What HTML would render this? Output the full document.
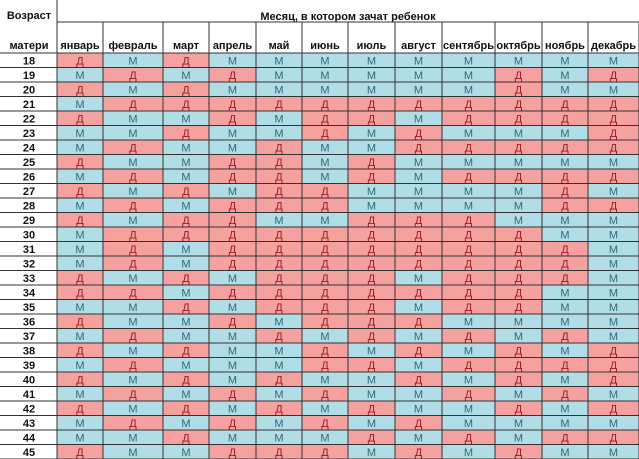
<!DOCTYPE html>
<html><head><meta charset="utf-8"><style>
html,body{margin:0;padding:0;background:#fff;}
svg{display:block;font-family:"Liberation Sans",Arial,sans-serif;}
</style></head><body>
<svg id="chart" width="639" height="459" viewBox="0 0 639 459" xmlns="http://www.w3.org/2000/svg">
<rect x="0" y="0" width="639" height="459" fill="#fff"/>
<text x="29" y="19" font-size="11" font-weight="bold" text-anchor="middle" fill="#111">Возраст</text>
<text x="348" y="20" font-size="11" font-weight="bold" text-anchor="middle" fill="#111">Месяц, в котором зачат ребенок</text>
<text x="29" y="49" font-size="11" font-weight="bold" text-anchor="middle" fill="#111">матери</text>
<g id="cells"></g><g id="lines"></g>
</svg>
<script>
const months=["январь","февраль","март","апрель","май","июнь","июль","август","сентябрь","октябрь","ноябрь","декабрь"];
const ages=[18,19,20,21,22,23,24,25,26,27,28,29,30,31,32,33,34,35,36,37,38,39,40,41,42,43,44,45];
const values=[
"ДМДММММММММ".padEnd(12,"М"),
"МДМДММММММДМД".slice(0,12),
"ДМДММММММДММ",
"МДДДДДДДДДДД",
"ДММДМДДМДДДД",
"ММДММДМДМММД",
"МДММДММДДДДД",
"ДММДДМДМММММ",
"МДМДДМДМДДДД",
"ДМДМДДМММДМ".padEnd(12,"М"),
"МДМДДДМММДДД".slice(0,12),
"ДМДДММДДДМММ",
"МДДДДДДДДДММ",
"МДМДДДДДДДДМ",
"МДМДДДДДДДДМ",
"ДМДМДДДМДДДМ",
"ДДМДДДДДДДММ",
"ММДМДДДМДДММ",
"ДММДМДДДММММ",
"МДММДМДМДМДМ",
"ДМДММДМДМДМД",
"МДМММДДМДДДД",
"ДМДМДМММДМДМД".slice(0,12),
"МДМДМДДМММДМ".slice(0,12),
"ДМДМДМДММДМД",
"МДМДМДМДМММММ".slice(0,12),
"ММДММММДМДМДД".slice(0,12),
"ДММДДДДМДМДММ".slice(0,12)
];
</script>
<script>
// corrected explicit rows (rows 18..45)
values[0]="ДМДММММММММ"+"М";
values[1]="МДМДММММММД"+"Д".replace("Д","М");
values[1]="МДМДМММММДМД";
values[2]="ДМДМММММММДМ".slice(0,0)+"ДМДММММММДММ";
values[9]="ДМДМДДМММДМ"+"";values[9]="ДМДМДДМММДМ".slice(0,11)+"";
values[9]="ДМДМД"+"Д"+"ММММДМ";
values[10]="МДМДД"+"Д"+"ММММДД";
values[11]="ДМДДМ"+"М"+"ДДДМММ";
values[12]="МДДДД"+"Д"+"ДДДДММ";
values[13]="МДМДД"+"Д"+"ДДДДДМ";
values[14]="МДМДД"+"Д"+"ДДДДДМ";
values[15]="ДМДМД"+"Д"+"ДМДДДМ";
values[16]="ДДМДД"+"Д"+"ДДДДММ";
values[17]="ММДМД"+"Д"+"ДМДДММ";
values[18]="ДММДМ"+"Д"+"ДДММММ";
values[19]="МДММД"+"М"+"ДМДМДМ";
values[20]="ДМДММ"+"Д"+"МДМДМД";
values[21]="МДМММ"+"Д"+"ДМДДДД";
values[22]="ДМДМД"+"М"+"МДМДМД";
values[23]="МДМДМ"+"Д"+"ММДМДМ";
values[24]="ДМДМД"+"М"+"ДММДМД";
values[25]="МДМДМ"+"Д"+"МДМММММ".slice(0,6);
values[25]="МДМДМ"+"Д"+"МДММММ";
values[26]="ММДММ"+"М"+"ДМДМДД";
values[27]="ДММДД"+"Д"+"МДМДММ";
values[7]="ДММДД"+"М"+"ДМММММ";
values[8]="МДМДД"+"М"+"ДМДДДД";
values[5]="ММДММ"+"Д"+"МДМММД";
values[6]="МДММД"+"М"+"МДДДДД";
values[4]="ДММДМ"+"Д"+"ДМДДДД";
values[3]="МДДДД"+"Д"+"ДДДДДД";
</script>
<script>
const NS="http://www.w3.org/2000/svg";
const colX=[57,103,163,209,256,302,348,395,442,495,542,588,639];
const top0=53, rowH=(459-53)/ages.length;
const yOf=i=>top0+i*rowH;
const cells=document.getElementById('cells'), lines=document.getElementById('lines');
function mk(tag,attrs,parent){const e=document.createElementNS(NS,tag);for(const k in attrs)e.setAttribute(k,attrs[k]);parent.appendChild(e);return e;}
months.forEach((m,j)=>{
  const t=mk('text',{x:(colX[j]+colX[j+1])/2,y:49,'font-size':11,'font-weight':'bold','text-anchor':'middle',fill:'#111'},cells);
  
  
  t.textContent=m;
});
ages.forEach((a,i)=>{
  const y=yOf(i);
  const t=mk('text',{x:29,y:y+rowH/2+4,'font-size':11,'font-weight':'bold','text-anchor':'middle',fill:'#111'},cells);
  
  
  t.textContent=a;
  for(let j=0;j<12;j++){
    const v=values[i][j];
    const r=mk('rect',{x:colX[j],y:y,width:colX[j+1]-colX[j],height:rowH,fill:v==='Д'?'#f4a1a0':'#b1dde6'},cells);
    
    
    const tx=mk('text',{x:(colX[j]+colX[j+1])/2,y:y+rowH/2+4,'font-size':11,'text-anchor':'middle',fill:v==='Д'?'#9a1c1c':'#2e6a78'},cells);
    
    
    tx.textContent=v;
  }
});
for(let i=0;i<=ages.length;i++){
  const l=mk('line',{x1:0,x2:639,y1:yOf(i),y2:yOf(i),stroke:'#333','stroke-width':1},lines);
  
  
}
const hl=mk('line',{x1:57,x2:639,y1:22,y2:22,stroke:'#333','stroke-width':1},lines);


colX.forEach((x,j)=>{
  const l=mk('line',{x1:x,x2:x,y1:j===0?0:22,y2:459,stroke:'#333','stroke-width':1},lines);
  
  
});
</script>
</body></html>
